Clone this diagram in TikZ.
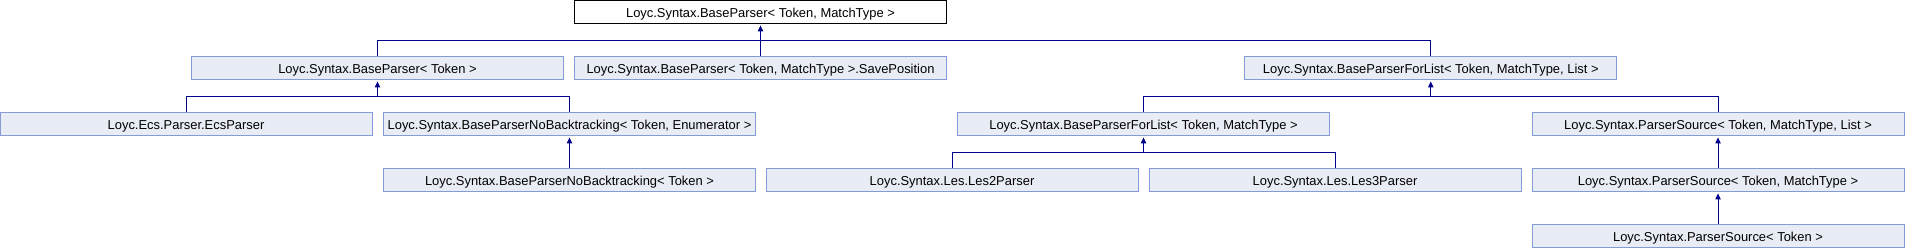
\documentclass[tikz,border=0pt]{standalone}
\usepackage{fontspec}
\setmainfont{Liberation Sans}
\usetikzlibrary{positioning, arrows.meta, calc}
\definecolor{boxfill}{RGB}{232,236,245}
\definecolor{boxline}{RGB}{132,155,214}
\definecolor{linkblue}{RGB}{0,0,136}
\tikzset{
  classbox/.style={rectangle, minimum width=279pt, minimum height=17.25pt, inner sep=0pt, text height=0.89em, text depth=0.11em, text centered, draw=boxline, fill=boxfill, line width=0.75pt, font=\fontsize{9.7}{11}\selectfont},
  rootbox/.style={classbox, draw=black, fill=white},
  edge/.style={draw=linkblue, line width=0.75pt},
  inherit/.style={edge, -{Triangle[width=4pt,length=4.5pt]}, shorten >=1.2pt}
}

\begin{document}
\begin{tikzpicture}[x=0.75pt, y=0.75pt]

    \useasboundingbox (0,0) rectangle (1905,-248);

    % Clase raiz
    \node[rootbox] (bp) at (760.5, -11.8) {Loyc.Syntax.BaseParser< Token, MatchType >};

    % Segundo nivel
    \node[classbox] (bpt)    at (377.5, -67.8)  {Loyc.Syntax.BaseParser< Token >};
    \node[classbox] (save)   at (760.5, -67.8)  {Loyc.Syntax.BaseParser< Token, MatchType >.SavePosition};
    \node[classbox] (bplist) at (1430.75, -67.8) {Loyc.Syntax.BaseParserForList< Token, MatchType, List >};

    % Tercer nivel
    \node[classbox] (ecs)     at (186, -123.8)    {Loyc.Ecs.Parser.EcsParser};
    \node[classbox] (nbte)    at (569.5, -123.8)  {Loyc.Syntax.BaseParserNoBacktracking< Token, Enumerator >};
    \node[classbox] (bplisttm) at (1143.5, -123.8) {Loyc.Syntax.BaseParserForList< Token, MatchType >};
    \node[classbox] (pstml)   at (1718, -123.8)   {Loyc.Syntax.ParserSource< Token, MatchType, List >};

    % Cuarto nivel
    \node[classbox] (nbt)  at (569.5, -179.8) {Loyc.Syntax.BaseParserNoBacktracking< Token >};
    \node[classbox] (les2) at (952, -179.8)   {Loyc.Syntax.Les.Les2Parser};
    \node[classbox] (les3) at (1335, -179.8)  {Loyc.Syntax.Les.Les3Parser};
    \node[classbox] (pstm) at (1718, -179.8)  {Loyc.Syntax.ParserSource< Token, MatchType >};

    % Quinto nivel
    \node[classbox] (pst) at (1718, -235.8) {Loyc.Syntax.ParserSource< Token >};

    % --- BARRAS DE HERENCIA ---
    \coordinate (busbp)     at (bp.center |- 0,-40.3);
    \coordinate (busbpt)    at (bpt.center |- 0,-96.3);
    \coordinate (busbplist) at (bplist.center |- 0,-96.3);
    \coordinate (buslist)   at (bplisttm.center |- 0,-152.3);

    % Hijos de BaseParser< Token, MatchType >
    \draw[edge] (bpt.north) |- (busbp) -| (bplist.north);
    \draw[edge] (save.north) -- (busbp);
    \draw[inherit] (busbp) -- (bp.south);

    % Hijos de BaseParser< Token >
    \draw[edge] (ecs.north) |- (busbpt) -| (nbte.north);
    \draw[inherit] (busbpt) -- (bpt.south);

    % Hijos de BaseParserForList< Token, MatchType, List >
    \draw[edge] (bplisttm.north) |- (busbplist) -| (pstml.north);
    \draw[inherit] (busbplist) -- (bplist.south);

    % Hijos de BaseParserForList< Token, MatchType >
    \draw[edge] (les2.north) |- (buslist) -| (les3.north);
    \draw[inherit] (buslist) -- (bplisttm.south);

    % Herencia directa
    \draw[inherit] (nbt.north) -- (nbte.south);
    \draw[inherit] (pstm.north) -- (pstml.south);
    \draw[inherit] (pst.north) -- (pstm.south);

\end{tikzpicture}
\end{document}
